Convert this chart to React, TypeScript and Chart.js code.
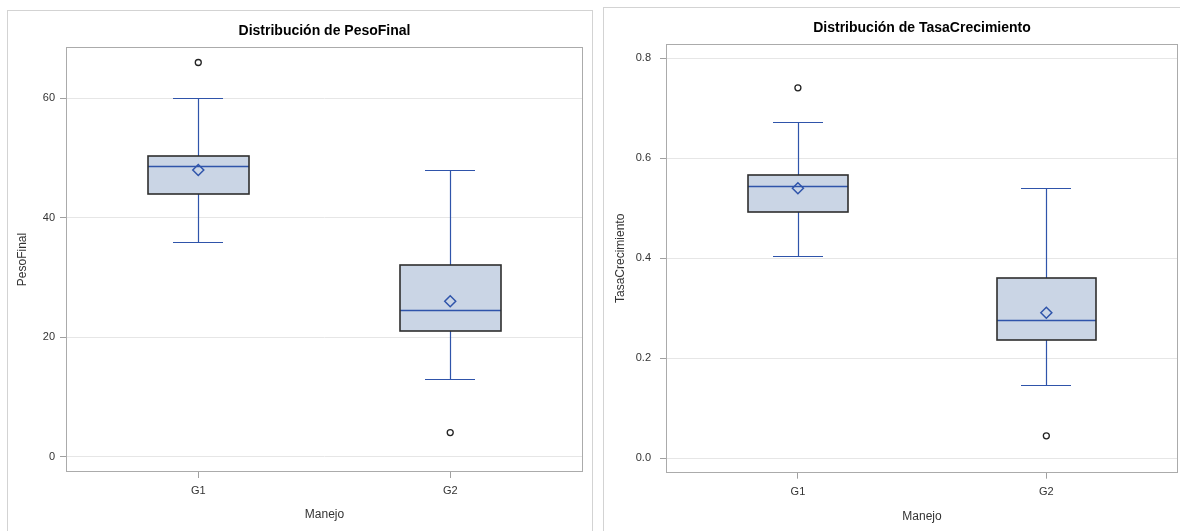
import React, { useEffect, useRef } from "react";
import { Chart, registerables } from "chart.js";

Chart.register(...registerables);

const FONT = "'Liberation Sans', Arial, Helvetica, sans-serif";

const CATEGORIES = ["G1", "G2"];
const X_AXIS_TITLE = "Manejo";

// PesoFinal
const PESO_TITLE = "Distribución de PesoFinal";
const PESO_AXIS_TITLE = "PesoFinal";
const PESO_WHISKER_LOW = [36, 13];
const PESO_Q1 = [44, 21];
const PESO_MEDIAN = [48.6, 24.5];
const PESO_Q3 = [50.4, 32];
const PESO_WHISKER_HIGH = [60, 48];
const PESO_MEAN = [48, 26];
const PESO_OUTLIERS = [[66], [4]];
const PESO_TICKS = [0, 20, 40, 60];
const PESO_TICK_LABELS = ["0", "20", "40", "60"];

// TasaCrecimiento
const TASA_TITLE = "Distribución de TasaCrecimiento";
const TASA_AXIS_TITLE = "TasaCrecimiento";
const TASA_WHISKER_LOW = [0.404, 0.147];
const TASA_Q1 = [0.493, 0.236];
const TASA_MEDIAN = [0.544, 0.276];
const TASA_Q3 = [0.566, 0.36];
const TASA_WHISKER_HIGH = [0.673, 0.54];
const TASA_MEAN = [0.54, 0.291];
const TASA_OUTLIERS = [[0.741], [0.045]];
const TASA_TICKS = [0, 0.2, 0.4, 0.6, 0.8];
const TASA_TICK_LABELS = ["0.0", "0.2", "0.4", "0.6", "0.8"];

const BLUE = "#2F54AA";
const BOX_FILL = "#CAD5E5";
const BOX_EDGE = "#2E2E2E";
const GRID = "#E6E6E6";
const FRAME = "#ABABAB";
const TEXT = "#333333";

const crisp = (v: number) => Math.round(v) + 0.5;

const boxPlugin = {
  id: "boxplot",
  beforeDatasetsDraw(chart: any, _args: any, opts: any) {
    const { ctx, chartArea } = chart;
    const x = chart.scales.x;
    const y = chart.scales.y;
    const s = opts.stats;
    ctx.save();
    // frame
    ctx.strokeStyle = FRAME;
    ctx.lineWidth = 1;
    ctx.strokeRect(
      crisp(chartArea.left),
      crisp(chartArea.top),
      Math.round(chartArea.right) - Math.round(chartArea.left) - 1,
      Math.round(chartArea.bottom) - Math.round(chartArea.top) - 1
    );
    s.cats.forEach((_c: string, i: number) => {
      const xc = crisp(x.getPixelForValue(i));
      const xl = Math.round(x.getPixelForValue(i - opts.boxWidth / 2));
      const xr = Math.round(x.getPixelForValue(i + opts.boxWidth / 2));
      const cl = Math.round(x.getPixelForValue(i - opts.capWidth / 2));
      const cr = Math.round(x.getPixelForValue(i + opts.capWidth / 2));
      const yLo = crisp(y.getPixelForValue(s.lo[i]));
      const yQ1 = Math.round(y.getPixelForValue(s.q1[i]));
      const yMed = crisp(y.getPixelForValue(s.med[i]));
      const yQ3 = Math.round(y.getPixelForValue(s.q3[i]));
      const yHi = crisp(y.getPixelForValue(s.hi[i]));

      // whiskers
      ctx.strokeStyle = BLUE;
      ctx.lineWidth = 1.2;
      ctx.beginPath();
      ctx.moveTo(xc, yQ3);
      ctx.lineTo(xc, yHi);
      ctx.moveTo(xc, yQ1);
      ctx.lineTo(xc, yLo);
      ctx.moveTo(cl, yHi);
      ctx.lineTo(cr, yHi);
      ctx.moveTo(cl, yLo);
      ctx.lineTo(cr, yLo);
      ctx.stroke();

      // box
      ctx.fillStyle = BOX_FILL;
      ctx.fillRect(xl, yQ3, xr - xl, yQ1 - yQ3);

      // median
      ctx.strokeStyle = BLUE;
      ctx.lineWidth = 1.4;
      ctx.beginPath();
      ctx.moveTo(xl, yMed);
      ctx.lineTo(xr, yMed);
      ctx.stroke();

      // outline
      ctx.strokeStyle = BOX_EDGE;
      ctx.lineWidth = 1.6;
      ctx.strokeRect(xl, yQ3, xr - xl, yQ1 - yQ3);
    });
    ctx.restore();
  },
};

type PanelCfg = {
  title: string;
  axisTitle: string;
  lo: number[];
  q1: number[];
  med: number[];
  q3: number[];
  hi: number[];
  mean: number[];
  outliers: number[][];
  ticks: number[];
  tickLabels: string[];
  yMin: number;
  yMax: number;
  xMin: number;
  xMax: number;
  canvasW: number;
  canvasH: number;
  yAxisW: number;
  xAxisH: number;
  rightPad: number;
  titlePadTop: number;
  titlePadBottom: number;
  yTickPad: number;
  yTitlePad: number;
  xTickPad: number;
  xTitlePadBottom: number;
};

function Panel({ cfg }: { cfg: PanelCfg }) {
  const ref = useRef<HTMLCanvasElement>(null);
  useEffect(() => {
    if (!ref.current) return;
    const meanData = CATEGORIES.map((_c, i) => ({ x: i, y: cfg.mean[i] }));
    const outlierData: { x: number; y: number }[] = [];
    cfg.outliers.forEach((arr, i) => arr.forEach((v) => outlierData.push({ x: i, y: v })));
    const chart = new Chart(ref.current, {
      type: "scatter",
      data: {
        datasets: [
          {
            label: "Media",
            data: meanData,
            pointStyle: "rectRot",
            pointRadius: 5.5,
            borderColor: BLUE,
            backgroundColor: "rgba(0,0,0,0)",
            borderWidth: 1.5,
          },
          {
            label: "Atípicos",
            data: outlierData,
            pointStyle: "circle",
            pointRadius: 3,
            borderColor: "#222222",
            backgroundColor: "rgba(0,0,0,0)",
            borderWidth: 1.3,
          },
        ],
      },
      options: {
        responsive: false,
        animation: false,
        events: [],
        layout: {
          autoPadding: false,
          padding: { top: 0, right: cfg.rightPad, bottom: 0, left: 0 },
        },
        plugins: {
          legend: { display: false },
          tooltip: { enabled: false },
          title: {
            display: true,
            text: cfg.title,
            fullSize: false,
            color: "#000000",
            font: { family: FONT, size: 14, weight: "bold" },
            padding: { top: cfg.titlePadTop, bottom: cfg.titlePadBottom },
          },
          boxplot: {
            stats: {
              cats: CATEGORIES,
              lo: cfg.lo,
              q1: cfg.q1,
              med: cfg.med,
              q3: cfg.q3,
              hi: cfg.hi,
            },
            boxWidth: 0.4,
            capWidth: 0.2,
          },
        } as any,
        scales: {
          x: {
            type: "linear",
            min: cfg.xMin,
            max: cfg.xMax,
            afterBuildTicks: (s: any) => {
              s.ticks = CATEGORIES.map((_c, i) => ({ value: i }));
            },
            afterFit: (s: any) => {
              s.height = cfg.xAxisH;
            },
            ticks: {
              callback: (v: any) => CATEGORIES[Math.round(Number(v))] ?? "",
              color: TEXT,
              font: { family: FONT, size: 11 },
              padding: cfg.xTickPad,
              maxRotation: 0,
            },
            grid: {
              display: true,
              drawOnChartArea: false,
              drawTicks: true,
              tickLength: 6,
              tickColor: "#A0A0A0",
            },
            border: { display: false },
            title: {
              display: true,
              text: X_AXIS_TITLE,
              color: TEXT,
              font: { family: FONT, size: 12 },
              padding: { top: 2, bottom: cfg.xTitlePadBottom },
            },
          },
          y: {
            type: "linear",
            min: cfg.yMin,
            max: cfg.yMax,
            afterBuildTicks: (s: any) => {
              s.ticks = cfg.ticks.map((v) => ({ value: v }));
            },
            afterFit: (s: any) => {
              s.width = cfg.yAxisW;
            },
            ticks: {
              callback: (v: any) => {
                const idx = cfg.ticks.findIndex((t) => Math.abs(t - Number(v)) < 1e-9);
                return idx >= 0 ? cfg.tickLabels[idx] : "";
              },
              color: TEXT,
              font: { family: FONT, size: 11 },
              padding: cfg.yTickPad,
            },
            grid: {
              color: GRID,
              lineWidth: 1,
              drawTicks: true,
              tickLength: 6,
              tickColor: "#A0A0A0",
            },
            border: { display: false },
            title: {
              display: true,
              text: cfg.axisTitle,
              color: TEXT,
              font: { family: FONT, size: 12 },
              padding: { top: cfg.yTitlePad, bottom: 2 },
            },
          },
        },
      },
      plugins: [boxPlugin as any],
    });
    return () => chart.destroy();
  }, [cfg]);
  return <canvas ref={ref} width={cfg.canvasW} height={cfg.canvasH} style={{ display: "block" }} />;
}

const LEFT_CFG: PanelCfg = {
  title: PESO_TITLE,
  axisTitle: PESO_AXIS_TITLE,
  lo: PESO_WHISKER_LOW,
  q1: PESO_Q1,
  med: PESO_MEDIAN,
  q3: PESO_Q3,
  hi: PESO_WHISKER_HIGH,
  mean: PESO_MEAN,
  outliers: PESO_OUTLIERS,
  ticks: PESO_TICKS,
  tickLabels: PESO_TICK_LABELS,
  yMin: -2.6,
  yMax: 68.6,
  xMin: -0.525,
  xMax: 1.527,
  canvasW: 584,
  canvasH: 520,
  yAxisW: 58,
  xAxisH: 59,
  rightPad: 9,
  titlePadTop: 11.6,
  titlePadBottom: 7.6,
  yTickPad: 5,
  yTitlePad: 7.8,
  xTickPad: 6,
  xTitlePadBottom: 8.8,
};

const RIGHT_CFG: PanelCfg = {
  title: TASA_TITLE,
  axisTitle: TASA_AXIS_TITLE,
  lo: TASA_WHISKER_LOW,
  q1: TASA_Q1,
  med: TASA_MEDIAN,
  q3: TASA_Q3,
  hi: TASA_WHISKER_HIGH,
  mean: TASA_MEAN,
  outliers: TASA_OUTLIERS,
  ticks: TASA_TICKS,
  tickLabels: TASA_TICK_LABELS,
  yMin: -0.0288,
  yMax: 0.8286,
  xMin: -0.531,
  xMax: 1.53,
  canvasW: 576,
  canvasH: 523,
  yAxisW: 62,
  xAxisH: 58.3,
  rightPad: 2,
  titlePadTop: 12.1,
  titlePadBottom: 7.1,
  yTickPad: 9,
  yTitlePad: 9.5,
  xTickPad: 7,
  xTitlePadBottom: 7.1,
};

export default function App() {
  return (
    <div
      style={{
        position: "absolute",
        left: 0,
        top: 0,
        width: 1180,
        height: 531,
        overflow: "hidden",
        background: "#ffffff",
      }}
    >
      <div
        style={{
          position: "absolute",
          left: 7,
          top: 10,
          width: 586,
          height: 560,
          boxSizing: "border-box",
          border: "1px solid #D3D3D3",
        }}
      >
        <Panel cfg={LEFT_CFG} />
      </div>
      <div
        style={{
          position: "absolute",
          left: 603,
          top: 7,
          width: 600,
          height: 560,
          boxSizing: "border-box",
          border: "1px solid #D3D3D3",
        }}
      >
        <Panel cfg={RIGHT_CFG} />
      </div>
    </div>
  );
}
